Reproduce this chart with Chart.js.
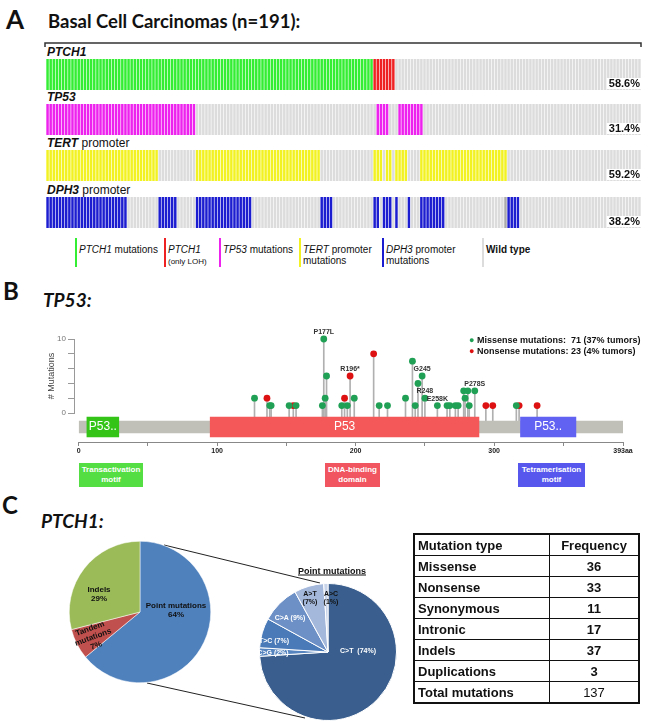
<!DOCTYPE html>
<html>
<head>
<meta charset="utf-8">
<script src="https://cdn.jsdelivr.net/npm/chart.js@4.4.1/dist/chart.umd.min.js"></script>
<style>
  body { margin: 0; width: 659px; height: 723px; position: relative; overflow: hidden; background: #fff; font-family: "Liberation Sans", Arial, sans-serif; color: #111; }
  canvas, .t, svg { position: absolute; }
  .t { white-space: nowrap; line-height: 1; }
  .cal { font-family: Lato, "Open Sans", sans-serif; font-weight: bold; }
  .lg { font-size: 10px; line-height: 11px; }
  .mb { color: #fff; font-weight: bold; font-size: 8px; text-align: center; line-height: 10px; padding-top: 2px; box-sizing: border-box; height: 24px; }
  table { position: absolute; border-collapse: collapse; font-weight: bold; font-size: 13px; border: 2px solid #111; }
  td { border: 1px solid #111; height: 20px; padding: 0 3px; }
</style>
</head>
<body>
<!-- panel A -->
<div class="t cal" style="left:6px;top:6px;font-size:26px">A</div>
<div class="t cal" style="left:48px;top:12px;font-size:18.5px">Basal Cell Carcinomas (n=191):</div>
<svg width="659" height="60" style="left:0;top:0">
  <polyline points="45,47 45,43 641,43 641,47" fill="none" stroke="#333" stroke-width="1.5"/>
</svg>
<div class="t" style="left:47px;top:46px;font-size:12px;font-weight:bold;font-style:italic">PTCH1</div>
<div class="t" style="left:47px;top:91px;font-size:12px;font-weight:bold;font-style:italic">TP53</div>
<div class="t" style="left:47px;top:137px;font-size:12px"><b><i>TERT</i></b> promoter</div>
<div class="t" style="left:47px;top:184px;font-size:12px"><b><i>DPH3</i></b> promoter</div>
<canvas id="rowPtch1" width="595" height="31" style="left:46px;top:59px"></canvas>
<canvas id="rowTp53" width="595" height="31" style="left:46px;top:104px"></canvas>
<canvas id="rowTert" width="595" height="31" style="left:46px;top:150px"></canvas>
<canvas id="rowDph3" width="595" height="31" style="left:46px;top:197px"></canvas>
<div id="legendA"></div>

<!-- panel B -->
<div class="t cal" style="left:3px;top:279px;font-size:24px">B</div>
<div class="t cal" style="left:43px;top:290px;font-size:19px;font-style:italic">TP53:</div>
<canvas id="lolli" width="613" height="110" style="left:46px;top:320px"></canvas>
<canvas id="track" width="659" height="58" style="left:0;top:400px"></canvas>
<div id="legendB"></div>
<div class="t mb" style="left:79px;top:463px;width:64px;background:#55dd44">Transactivation<br>motif</div>
<div class="t mb" style="left:325px;top:463px;width:55px;background:#f05560">DNA-binding<br>domain</div>
<div class="t mb" style="left:518px;top:463px;width:67px;background:#5757ee">Tetramerisation<br>motif</div>

<!-- panel C -->
<div class="t cal" style="left:2px;top:493px;font-size:24px">C</div>
<div class="t cal" style="left:41px;top:511px;font-size:19px;font-style:italic">PTCH1:</div>
<svg width="659" height="723" style="left:0;top:0">
  <line x1="164" y1="545" x2="320" y2="583" stroke="#222" stroke-width="1"/>
  <line x1="147" y1="683" x2="305" y2="718" stroke="#222" stroke-width="1"/>
</svg>
<canvas id="pieMain" width="142" height="142" style="left:69px;top:541px"></canvas>
<canvas id="piePoint" width="138" height="138" style="left:259px;top:583px"></canvas>
<div class="t" style="left:332px;top:571px;transform:translate(-50%,-50%);font-size:9px;font-weight:bold;text-decoration:underline">Point mutations</div>
<div id="pieLabels"></div>
<table id="freqTable" style="left:413px;top:533px"></table>

<script>
// ---- panel A: one status per tumour, written as runs left to right ----
var sampleCount = 191;
var ptch1Runs = [['mut', 105], ['loh', 7], ['wt', 79]];
var tp53Runs = [['mut', 48], ['wt', 58], ['mut', 4], ['wt', 3], ['mut', 8], ['wt', 70]];
var tertRuns = [['mut', 36], ['wt', 12], ['mut', 40], ['wt', 17], ['mut', 3], ['wt', 1], ['mut', 2], ['wt', 1], ['mut', 4], ['wt', 4], ['mut', 28], ['wt', 43]];
var dph3Runs = [['mut', 26], ['wt', 10], ['mut', 6], ['wt', 6], ['mut', 18], ['wt', 22], ['mut', 4], ['wt', 13], ['mut', 2], ['wt', 1], ['mut', 3], ['wt', 1], ['mut', 1], ['wt', 3], ['mut', 1], ['wt', 3], ['mut', 8], ['wt', 19], ['na', 1], ['mut', 4], ['wt', 39]];
var legendALabels = ['<i>PTCH1</i> mutations', '<i>PTCH1</i><br><span style="font-size:8px">(only LOH)</span>', '<i>TP53</i> mutations', '<i>TERT</i> promoter<br>mutations', '<i>DPH3</i> promoter<br>mutations', '<b>Wild type</b>'];

// ---- panel B: TP53 lollipops (protein position in aa, number of mutations) ----
var missensePos = [177, 179, 248, 241, 245, 278, 281, 286, 127, 178, 199, 236, 250, 279, 138, 139, 152, 157, 176, 190, 194, 217, 223, 243, 259, 266, 268, 272, 274, 282, 316];
var missenseCount = [10, 5, 5, 7, 4, 3, 3, 3, 2, 2, 2, 2, 2, 2, 1, 1, 1, 1, 1, 1, 1, 1, 1, 1, 1, 1, 1, 1, 1, 1, 1];
var nonsensePos = [213, 196, 136, 192, 155, 294, 299, 318, 331];
var nonsenseCount = [8, 5, 2, 2, 1, 1, 1, 1, 1];
var hotspotNames = ['P177L', 'R196*', 'G245', 'R248', 'E258K', 'P278S'];
var hotspotPos = [177, 196, 248, 250, 259, 286];
var hotspotCount = [10, 5, 5, 2, 1, 3];
var proteinLength = 393;
var domainNames = ['P53..', 'P53', 'P53..'];
var domainStart = [6, 95, 319];
var domainEnd = [29, 289, 359];
var axisTicks = [0, 50, 100, 150, 200, 250, 300, 350, 393];

// ---- panel C ----
var classLabels = ['Point mutations', 'Tandem mutations', 'Indels'];
var classPct = [64, 7, 29];
var pointLabels = ['C>T', 'C>G', 'T>C', 'C>A', 'A>T', 'A>C'];
var pointPct = [74, 2, 7, 9, 7, 1];
var tableTypes = ['Missense', 'Nonsense', 'Synonymous', 'Intronic', 'Indels', 'Duplications'];
var tableFreq = [36, 33, 11, 17, 37, 3];

var wtColor = '#dcdcdc';

function expand(runs) {
  var out = [];
  runs.forEach(function(r) {
    for (var i = 0; i < r[1]; i++) out.push(r[0]);
  });
  return out;
}

var pctLabel = {
  id: 'pctLabel',
  afterDatasetsDraw: function(chart, args, opts) {
    var c = chart.ctx, a = chart.chartArea;
    c.save();
    c.font = 'bold 11px "Liberation Sans"';
    var w = c.measureText(opts.text).width;
    c.fillStyle = '#fff';
    c.fillRect(a.right - w - 3, a.bottom - 12, w + 3, 11);
    c.fillStyle = '#111';
    c.textAlign = 'right';
    c.fillText(opts.text, a.right - 1, a.bottom - 3);
    c.restore();
  }
};

function makeRow(id, runs, colors) {
  var st = expand(runs);
  var hit = st.filter(function(s) { return s === 'mut' || s === 'loh'; }).length;
  new Chart(document.getElementById(id), {
    type: 'bar',
    data: {
      labels: st.map(function(s, i) { return i + 1; }),
      datasets: [{
        data: st.map(function() { return 1; }),
        backgroundColor: st.map(function(s) { return colors[s] || wtColor; }),
        barPercentage: 1,
        categoryPercentage: 0.8
      }]
    },
    options: {
      responsive: false,
      animation: false,
      layout: { padding: 0 },
      scales: { x: { display: false }, y: { display: false, min: 0, max: 1 } },
      plugins: {
        legend: { display: false },
        tooltip: { enabled: false },
        pctLabel: { text: (hit / sampleCount * 100).toFixed(1) + '%' }
      }
    },
    plugins: [pctLabel]
  });
}

makeRow('rowPtch1', ptch1Runs, { mut: '#33ee33', loh: '#ee2222' });
makeRow('rowTp53', tp53Runs, { mut: '#ee22ee' });
makeRow('rowTert', tertRuns, { mut: '#f2f222' });
makeRow('rowDph3', dph3Runs, { mut: '#1c1cd0', na: '#aaaaaa' });

// legend A
var legColors = ['#33ee33', '#ee2222', '#ee22ee', '#f2f222', '#1c1cd0', '#dcdcdc'];
var legX = [75, 164, 219, 299, 382, 482];
var legHtml = '';
legendALabels.forEach(function(l, i) {
  legHtml += '<div class="t" style="left:' + legX[i] + 'px;top:238px;width:2px;height:29px;background:' + legColors[i] + '"></div>';
  legHtml += '<div class="t lg" style="left:' + (legX[i] + 4) + 'px;top:244px">' + l + '</div>';
});
document.getElementById('legendA').innerHTML = legHtml;

// ---- panel B charts ----
function heads(pos, cnt) {
  return pos.map(function(p, i) { return { x: p, y: cnt[i] }; });
}
var stems = heads(missensePos.concat(nonsensePos), missenseCount.concat(nonsenseCount)).map(function(d) {
  return { x: d.x, y: [-1.1, d.y] };
});

var hotspotPlugin = {
  id: 'hotspots',
  afterDatasetsDraw: function(chart) {
    var c = chart.ctx, xs = chart.scales.x, ys = chart.scales.y;
    c.save();
    c.font = 'bold 7px "Liberation Sans"';
    c.fillStyle = '#333';
    c.textAlign = 'center';
    hotspotNames.forEach(function(n, i) {
      c.fillText(n, xs.getPixelForValue(hotspotPos[i]), ys.getPixelForValue(hotspotCount[i]) - 5);
    });
    c.restore();
  }
};

new Chart(document.getElementById('lolli'), {
  type: 'bar',
  data: {
    datasets: [
      { type: 'scatter', data: heads(missensePos, missenseCount), backgroundColor: '#1fa055', pointRadius: 3.4, borderWidth: 0, order: 1, clip: false },
      { type: 'scatter', data: heads(nonsensePos, nonsenseCount), backgroundColor: '#dd1111', pointRadius: 3.4, borderWidth: 0, order: 1, clip: false },
      { type: 'bar', data: stems, backgroundColor: '#b0b0b0', barThickness: 1, order: 3, clip: false }
    ]
  },
  options: {
    responsive: false,
    animation: false,
    layout: { padding: { left: 0, right: 36, top: 19, bottom: 17 } },
    scales: {
      x: { type: 'linear', min: -3.3, max: proteinLength, offset: false, display: false },
      y: {
        min: 0, max: 10,
        afterFit: function(s) { s.width = 28; },
        ticks: {
          stepSize: 2, color: '#777', padding: 2, font: { size: 8 },
          callback: function(v) { return (v === 0 || v === 10) ? v : ''; }
        },
        grid: { drawOnChartArea: false, tickLength: 6, color: '#999' },
        border: { color: '#999' },
        title: { display: true, text: '# Mutations', color: '#444', font: { size: 9 }, padding: 0 }
      }
    },
    plugins: { legend: { display: false }, tooltip: { enabled: false } }
  },
  plugins: [hotspotPlugin]
});

var domainText = {
  id: 'domainText',
  afterDatasetsDraw: function(chart) {
    var c = chart.ctx, meta = chart.getDatasetMeta(1);
    c.save();
    c.font = '12px "Liberation Sans"';
    c.fillStyle = '#fff';
    c.textAlign = 'center';
    c.textBaseline = 'middle';
    meta.data.forEach(function(el, i) {
      c.fillText(domainNames[i], (el.x + el.base) / 2, el.y);
    });
    c.restore();
  }
};

new Chart(document.getElementById('track'), {
  type: 'bar',
  data: {
    labels: ['TP53'],
    datasets: [
      { data: [{ x: [0, proteinLength], y: 'TP53' }], backgroundColor: '#c0c0b8', barThickness: 12, order: 2 },
      {
        data: domainStart.map(function(s, i) { return { x: [s, domainEnd[i]], y: 'TP53' }; }),
        backgroundColor: ['#33c417', '#f55858', '#6262f2'], barThickness: 20, order: 1
      }
    ]
  },
  options: {
    indexAxis: 'y',
    responsive: false,
    animation: false,
    datasets: { bar: { grouped: false } },
    layout: { padding: { left: 78.6, right: 36, top: 12, bottom: 0 } },
    scales: {
      y: { display: false },
      x: {
        type: 'linear', min: 0, max: proteinLength,
        afterBuildTicks: function(s) { s.ticks = axisTicks.map(function(v) { return { value: v }; }); },
        afterFit: function(s) { s.height = 16; },
        ticks: {
          autoSkip: false, maxRotation: 0, padding: 1, color: '#222', font: { size: 7, weight: 'bold' },
          callback: function(v) { return v === proteinLength ? proteinLength + 'aa' : (v % 100 === 0 ? v : ''); }
        },
        grid: { drawOnChartArea: false, tickLength: 4, color: '#888' },
        border: { color: '#888' }
      }
    },
    plugins: { legend: { display: false }, tooltip: { enabled: false } }
  },
  plugins: [domainText]
});

// legend B
document.getElementById('legendB').innerHTML =
  '<div class="t" style="left:469px;top:335px;font-size:9px;font-weight:bold;line-height:11px">' +
  '<span style="color:#1fa055">&#9679;</span> Missense mutations:&nbsp; 71 (37% tumors)<br>' +
  '<span style="color:#dd1111">&#9679;</span> Nonsense mutations: 23 (4% tumors)</div>';

// ---- panel C ----
function pie(id, data, colors, bw) {
  new Chart(document.getElementById(id), {
    type: 'pie',
    data: { datasets: [{ data: data, backgroundColor: colors, borderColor: '#fff', borderWidth: bw }] },
    options: { responsive: false, animation: false, plugins: { legend: { display: false }, tooltip: { enabled: false } } }
  });
}
pie('pieMain', classPct, ['#4f81bd', '#c0504d', '#9bbb59'], 0.5);
pie('piePoint', pointPct, ['#3a5f8e', '#5584be', '#4a7ab8', '#6d91c7', '#a4b8dc', '#c8d4ea'], 1);

var lab = [
  [classLabels[0] + '<br>' + classPct[0] + '%', 176, 610, '#111', 0, 8],
  ['Tandem<br>mutations<br>' + classPct[1] + '%', 93, 637, '#111', -20, 8],
  [classLabels[2] + '<br>' + classPct[2] + '%', 99, 594, '#111', 0, 8],
  [pointLabels[0] + '&nbsp; (' + pointPct[0] + '%)', 358, 651, '#fff', 0, 7],
  [pointLabels[1] + ' (' + pointPct[1] + '%)', 273, 653, '#fff', 0, 7],
  [pointLabels[2] + ' (' + pointPct[2] + '%)', 274, 641, '#fff', 0, 7],
  [pointLabels[3] + ' (' + pointPct[3] + '%)', 290, 618, '#fff', 0, 7],
  [pointLabels[4] + '<br>(' + pointPct[4] + '%)', 310, 598, '#111', 0, 7],
  [pointLabels[5] + '<br>(' + pointPct[5] + '%)', 331, 598, '#111', 0, 7]
];
var lh = '';
lab.forEach(function(l) {
  lh += '<div class="t" style="left:' + l[1] + 'px;top:' + l[2] + 'px;transform:translate(-50%,-50%) rotate(' + l[4] + 'deg);' +
    'text-align:center;font-weight:bold;font-size:' + l[5] + 'px;line-height:' + (l[5] + 1) + 'px;color:' + l[3] + '">' + l[0] + '</div>';
});
document.getElementById('pieLabels').innerHTML = lh;

// table
var total = tableFreq.reduce(function(a, b) { return a + b; }, 0);
var th = '<tr><td style="width:128px">Mutation type</td><td style="width:82px;text-align:center">Frequency</td></tr>';
tableTypes.forEach(function(t, i) {
  th += '<tr><td>' + t + '</td><td style="text-align:center">' + tableFreq[i] + '</td></tr>';
});
th += '<tr><td>Total mutations</td><td style="text-align:center;font-weight:normal">' + total + '</td></tr>';
document.getElementById('freqTable').innerHTML = th;
</script>
</body>
</html>
